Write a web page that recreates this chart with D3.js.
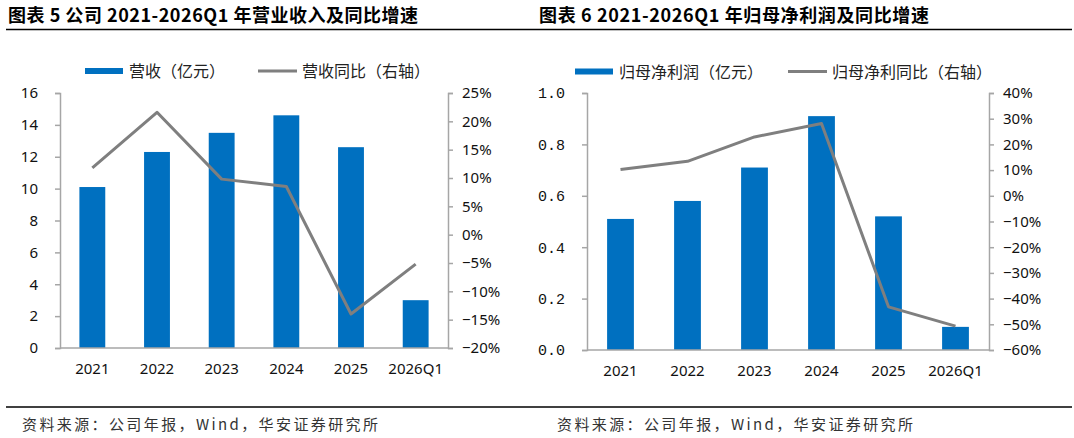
<!DOCTYPE html>
<html>
<head>
<meta charset="utf-8">
<script src="https://cdn.jsdelivr.net/npm/d3@7"></script>
<style>
  body { margin: 0; background: #fff; }
  svg { display: block; }
</style>
</head>
<body>
<svg id="chart" width="1074" height="438"></svg>
<script>
// 数据
const years = ["2021", "2022", "2023", "2024", "2025", "2026Q1"];
const revenue = [10.1, 12.3, 13.5, 14.6, 12.6, 3.0];
const revenueYoY = [11.8, 21.6, 9.8, 8.5, -14.0, -5.2];
const profit = [0.51, 0.58, 0.71, 0.91, 0.52, 0.09];
const profitYoY = [10.2, 13.4, 22.9, 28.1, -43.2, -50.7];

const leftTicks = [0, 2, 4, 6, 8, 10, 12, 14, 16];
const leftPctTicks = [-20, -15, -10, -5, 0, 5, 10, 15, 20, 25];
const rightTicks = [0, 0.2, 0.4, 0.6, 0.8, 1.0];
const rightPctTicks = [-60, -50, -40, -30, -20, -10, 0, 10, 20, 30, 40];

const BAR = "#0070c0", LINE = "#7f7f7f", AXIS = "#a6a6a6";
const CJK = "'Noto Sans CJK SC', 'Noto Sans', sans-serif";
const NUM = "'Noto Sans', 'Liberation Sans', sans-serif";

const svg = d3.select("#chart");

// 标题和分隔线
svg.append("text").attr("x", 8).attr("y", 22)
    .attr("font-family", CJK).attr("font-weight", 700).attr("font-size", 18)
    .attr("textLength", 410).attr("lengthAdjust", "spacing")
    .text("图表 5 公司 2021-2026Q1 年营业收入及同比增速");
svg.append("text").attr("x", 539).attr("y", 22)
    .attr("font-family", CJK).attr("font-weight", 700).attr("font-size", 18)
    .attr("textLength", 390).attr("lengthAdjust", "spacing")
    .text("图表 6 2021-2026Q1 年归母净利润及同比增速");

[29.5, 407].forEach(y => {
    svg.append("line").attr("x1", 6).attr("x2", 1072).attr("y1", y).attr("y2", y)
        .attr("stroke", "#000").attr("stroke-width", 1.5);
});

[22, 557].forEach(x => {
    svg.append("text").attr("x", x).attr("y", 430)
        .attr("font-family", CJK).attr("font-size", 15).attr("fill", "#333")
        .attr("textLength", 356).attr("lengthAdjust", "spacing")
        .text("资料来源：公司年报，Wind，华安证券研究所");
});

// 画一个双轴图
function drawPanel(opt) {
    const g = svg.append("g");
    const x = d3.scaleBand().domain(years).range([opt.left, opt.right])
        .paddingInner(0.6).paddingOuter(0.3);
    const y = d3.scaleLinear().domain(opt.yDomain).range([opt.bottom, opt.top]);
    const y2 = d3.scaleLinear().domain(opt.y2Domain).range([opt.bottom, opt.top]);

    // 柱子
    g.selectAll("rect.bar").data(opt.bars).enter().append("rect")
        .attr("class", "bar")
        .attr("x", (d, i) => x(years[i]))
        .attr("width", x.bandwidth())
        .attr("y", d => y(d))
        .attr("height", d => y(0) - y(d))
        .attr("fill", BAR);

    // 左轴
    const yAxis = g.append("g").attr("transform", `translate(${opt.left},0)`)
        .call(d3.axisLeft(y).tickValues(opt.yTicks).tickSize(5).tickPadding(opt.yPad)
            .tickFormat(opt.yFormat));
    // 右轴
    const y2Axis = g.append("g").attr("transform", `translate(${opt.right},0)`)
        .call(d3.axisRight(y2).tickValues(opt.y2Ticks).tickSize(5).tickPadding(opt.y2Pad)
            .tickFormat(d => (d < 0 ? "\u2212" + Math.abs(d) : d) + "%"));
    [yAxis, y2Axis].forEach(a => {
        a.select(".domain").attr("stroke", AXIS).attr("stroke-width", 1.5);
        a.selectAll(".tick line").attr("stroke", AXIS).attr("stroke-width", 1.5);
        a.selectAll("text").attr("fill", "#111").attr("font-size", 15);
    });
    yAxis.selectAll("text").attr("font-family", opt.yFont);
    y2Axis.selectAll("text").attr("font-family", NUM);

    // x轴
    g.append("line").attr("x1", opt.left).attr("x2", opt.right)
        .attr("y1", y(0)).attr("y2", y(0))
        .attr("stroke", AXIS).attr("stroke-width", 1.5);
    g.selectAll("text.xl").data(years).enter().append("text")
        .attr("class", "xl")
        .attr("x", d => x(d) + x.bandwidth() / 2)
        .attr("y", opt.bottom + 26)
        .attr("text-anchor", "middle")
        .attr("font-family", NUM).attr("font-size", 15).attr("fill", "#111")
        .text(d => d);

    // 折线
    const line = d3.line()
        .x((d, i) => x(years[i]) + x.bandwidth() / 2)
        .y(d => y2(d));
    g.append("path").datum(opt.pct).attr("d", line)
        .attr("fill", "none").attr("stroke", LINE).attr("stroke-width", 3)
        .attr("stroke-linejoin", "round");

    // 图例
    const lg = g.append("g").attr("font-family", CJK).attr("font-size", 16).attr("fill", "#222");
    lg.append("rect").attr("x", opt.legend[0]).attr("y", opt.legendY - 3)
        .attr("width", 38).attr("height", 6).attr("fill", BAR);
    lg.append("text").attr("x", opt.legend[0] + 44).attr("y", opt.legendY + 6)
        .text(opt.barName);
    lg.append("line").attr("x1", opt.legend[1]).attr("x2", opt.legend[1] + 39)
        .attr("y1", opt.legendY).attr("y2", opt.legendY)
        .attr("stroke", LINE).attr("stroke-width", 3);
    lg.append("text").attr("x", opt.legend[1] + 44).attr("y", opt.legendY + 6)
        .text(opt.lineName);
}

drawPanel({
    left: 60, right: 448, top: 93, bottom: 348,
    yDomain: [0, 16], y2Domain: [-20, 25],
    yTicks: leftTicks, y2Ticks: leftPctTicks,
    yFormat: d => d, yFont: NUM, yPad: 17, y2Pad: 9,
    bars: revenue, pct: revenueYoY,
    legend: [85, 258], legendY: 71,
    barName: "营收（亿元）", lineName: "营收同比（右轴）"
});

drawPanel({
    left: 587, right: 989, top: 93, bottom: 350,
    yDomain: [0, 1.0], y2Domain: [-60, 40],
    yTicks: rightTicks, y2Ticks: rightPctTicks,
    yFormat: d3.format(".1f"), yFont: "'Liberation Mono', 'DejaVu Sans Mono', monospace",
    yPad: 17, y2Pad: 9,
    bars: profit, pct: profitYoY,
    legend: [575, 788], legendY: 71.5,
    barName: "归母净利润（亿元）", lineName: "归母净利同比（右轴）"
});
</script>
</body>
</html>
